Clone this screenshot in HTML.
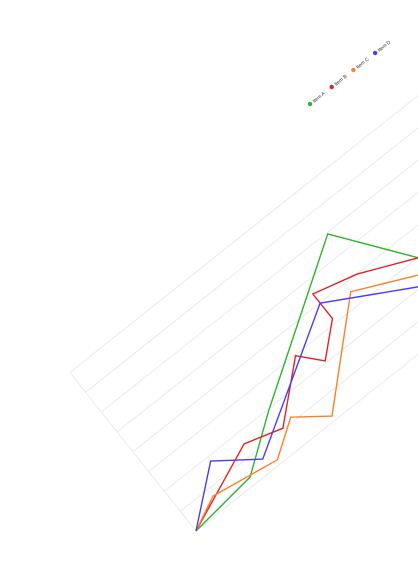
<!DOCTYPE html>
<html><head><meta charset="utf-8"><style>
html,body{margin:0;padding:0;background:#fff;width:418px;height:574px;overflow:hidden}
svg{display:block;font-family:"Liberation Sans",sans-serif}
</style></head><body>
<svg id="chart" width="418" height="574" viewBox="0 0 418 574" xmlns="http://www.w3.org/2000/svg">
<g id="plot" transform="translate(196,531) rotate(-38.5)"></g>
<g id="legend"></g>
</svg>
<script>
const seriesNames = ["Item A","Item B","Item C","Item D"];
const seriesColors = ["#2db52d","#e02424","#ff7f2a","#4a3cff"];
const xA = [0,7.6,13.1,28.8,34.4];
const yA = [0,0.34,1.91,5.94,2.98];
const xB = [0,9.2,13.2,18.7,20.7,23.9,23.9,28.6,34.4];
const yB = [0,1.51,1.04,2.97,2.08,3.21,4.45,3.98,2.98];
const xC = [0,3.5,10.8,14.5,17.8,27.0,33.3];
const yC = [0,0.66,0.20,1.19,0.21,3.59,2.45];
const xD = [0,5.5,9.7,23.9,32.6];
const yD = [0,1.80,0.58,3.99,2.08];
const yTicks = [0,1,2,3,4,5,6,7,8];

const NS="http://www.w3.org/2000/svg";
const xS = v => v*10;
const yS = v => -v*25.33;
const plot=document.getElementById('plot');
function mk(t,a){const e=document.createElementNS(NS,t);for(const k in a)e.setAttribute(k,a[k]);return e;}

yTicks.forEach((t,i)=>{
  const l=mk('line',{x1:0,x2:520,y1:yS(t),y2:yS(t),stroke:'#e6e6e6','stroke-width':0.8});
  
  
  plot.appendChild(l);
});
const ax=mk('line',{x1:0,x2:0,y1:0,y2:yS(8),stroke:'#e6e6e6','stroke-width':0.8});


plot.appendChild(ax);

const sets=[[xA,yA],[xB,yB],[xC,yC],[xD,yD]];
sets.forEach((s,i)=>{
  const pts=s[0].map((x,j)=>xS(x)+','+yS(s[1][j])).join(' ');
  const p=mk('polyline',{points:pts,fill:'none',stroke:seriesColors[i],'stroke-width':1.4,'stroke-linejoin':'miter'});
  
  
  plot.appendChild(p);
});

const lg=document.getElementById('legend');
seriesNames.forEach((n,i)=>{
  const cx=310+i*21.7, cy=104-i*17;
  const g=mk('g',{transform:`translate(${cx},${cy}) rotate(-38.5)`});
  
  
  g.appendChild(mk('circle',{cx:0,cy:0,r:2.2,fill:seriesColors[i]}));
  const t=mk('text',{x:4,y:1.8,'font-size':5,fill:'#333'});
  t.textContent=n;
  g.appendChild(t);
  lg.appendChild(g);
});
</script>
</body></html>
